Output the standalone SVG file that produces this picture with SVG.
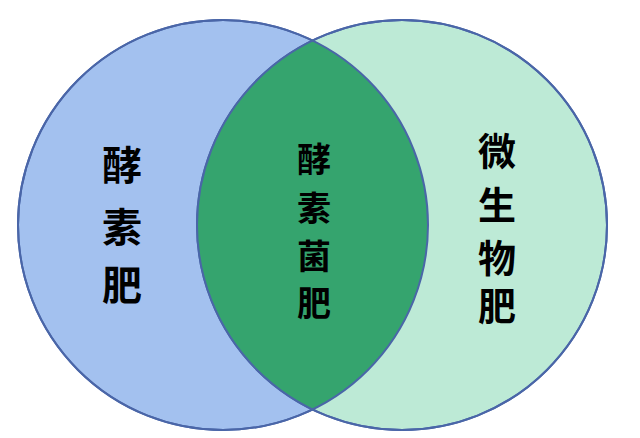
<svg xmlns="http://www.w3.org/2000/svg" width="640" height="438" viewBox="0 0 640 438">
<style>
.c{stroke:#4a66a8;stroke-width:2}
text{font-family:"Noto Sans CJK SC",sans-serif;font-weight:bold;fill:#000;text-anchor:middle}
</style>
<defs><clipPath id="cl"><circle cx="223" cy="225" r="205"/></clipPath></defs>
<rect width="640" height="438" fill="#fff"/>
<g id="left"><circle class="c" cx="223" cy="225" r="205" fill="#a3c1ef"/></g>
<g id="right"><circle class="c" cx="402" cy="225" r="205" fill="#bdead6"/></g>
<g id="overlap"><circle cx="402" cy="225" r="205" fill="#35a46e" clip-path="url(#cl)"/>
<circle cx="223" cy="225" r="205" fill="none" class="c"/><circle cx="402" cy="225" r="205" fill="none" class="c"/></g>
<g id="left-label"><text x="122" y="180" font-size="40">酵</text><text x="122" y="242" font-size="40">素</text><text x="122" y="300" font-size="40">肥</text></g>
<g id="mid-label"><text x="314" y="172" font-size="34">酵</text><text x="314" y="221" font-size="34">素</text><text x="314" y="269" font-size="34">菌</text><text x="314" y="316" font-size="34">肥</text></g>
<g id="right-label"><text x="497" y="165" font-size="38">微</text><text x="497" y="219" font-size="38">生</text><text x="497" y="272" font-size="38">物</text><text x="497" y="320" font-size="38">肥</text></g>
<g id="connectors"/>
</svg>
